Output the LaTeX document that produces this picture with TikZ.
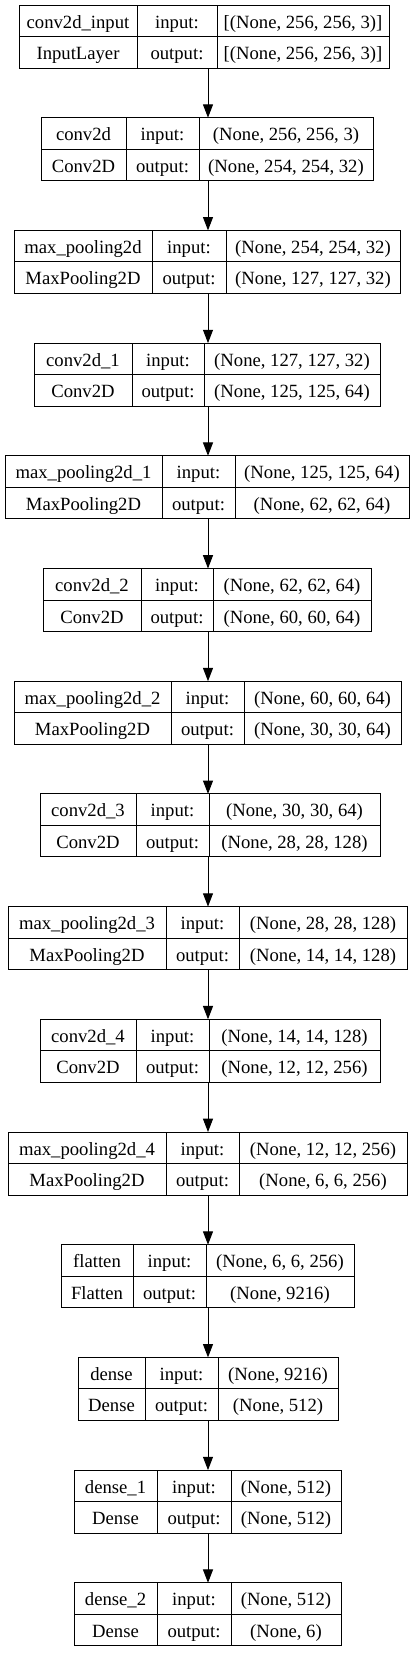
\documentclass[tikz,border=0pt]{standalone}
\usepackage{fontspec}
\setmainfont{Liberation Serif}
\usetikzlibrary{arrows.meta}
\tikzset{
  laybox/.style={draw, rectangle, inner sep=0pt, outer sep=0pt, line width=0.75pt},
  cell/.style={inner sep=0pt, anchor=base, font=\fontsize{14pt}{16pt}\selectfont},
  divider/.style={line width=0.75pt},
  flow/.style={line width=0.75pt, -{Triangle[length=10pt,width=7.5pt]}}
}
\begin{document}
\begin{tikzpicture}[x=0.75pt,y=-0.75pt]
\useasboundingbox (0,0) rectangle (416,1653);
\fill[white] (0,0) rectangle (416,1653);
\coordinate (ax) at (208,0);
\foreach \i/\l/\a/\b/\r/\nm/\cl/\vin/\vout in {
 0/19/137/217/389/conv2d\_input/InputLayer/{[(None, 256, 256, 3)]}/{[(None, 256, 256, 3)]},
 1/41/126/199/373/conv2d/Conv2D/{(None, 256, 256, 3)}/{(None, 254, 254, 32)},
 2/14/152/226/400/max\_pooling2d/MaxPooling2D/{(None, 254, 254, 32)}/{(None, 127, 127, 32)},
 3/34/132/204/380/conv2d\_1/Conv2D/{(None, 127, 127, 32)}/{(None, 125, 125, 64)},
 4/5/162/235/409/max\_pooling2d\_1/MaxPooling2D/{(None, 125, 125, 64)}/{(None, 62, 62, 64)},
 5/43/141/213/371/conv2d\_2/Conv2D/{(None, 62, 62, 64)}/{(None, 60, 60, 64)},
 6/14/171/244/401/max\_pooling2d\_2/MaxPooling2D/{(None, 60, 60, 64)}/{(None, 30, 30, 64)},
 7/40/136/209/380/conv2d\_3/Conv2D/{(None, 30, 30, 64)}/{(None, 28, 28, 128)},
 8/8/166/239/407/max\_pooling2d\_3/MaxPooling2D/{(None, 28, 28, 128)}/{(None, 14, 14, 128)},
 9/40/136/209/380/conv2d\_4/Conv2D/{(None, 14, 14, 128)}/{(None, 12, 12, 256)},
 10/8/166/239/407/max\_pooling2d\_4/MaxPooling2D/{(None, 12, 12, 256)}/{(None, 6, 6, 256)},
 11/61/133/206/354/flatten/Flatten/{(None, 6, 6, 256)}/{(None, 9216)},
 12/78/145/218/338/dense/Dense/{(None, 9216)}/{(None, 512)},
 13/74/157/231/341/dense\_1/Dense/{(None, 512)}/{(None, 512)},
 14/74/157/231/341/dense\_2/Dense/{(None, 512)}/{(None, 6)}%
}{
  \pgfmathsetmacro\t{5+112.7*\i}
  \node[laybox, minimum width={(\r-\l)*0.75pt}, minimum height={63*0.75pt}] (b\i) at ({(\l+\r)/2},{\t+31.5}) {};
  \draw[divider] (\l,{\t+31.5}) -- (\r,{\t+31.5});
  \draw[divider] (\a,\t) -- (\a,{\t+63});
  \draw[divider] (\b,\t) -- (\b,{\t+63});
  \node[cell] (b\i-n) at ({(\l+\a)/2},{\t+23}) {\nm};
  \node[cell] (b\i-c) at ({(\l+\a)/2},{\t+54.5}) {\cl};
  \node[cell] (b\i-i) at ({(\a+\b)/2},{\t+23}) {input:};
  \node[cell] (b\i-o) at ({(\a+\b)/2},{\t+54.5}) {output:};
  \node[cell] (b\i-vi) at ({(\b+\r)/2},{\t+23}) {\vin};
  \node[cell] (b\i-vo) at ({(\b+\r)/2},{\t+54.5}) {\vout};
}
\foreach \i [count=\j from 1] in {0,...,13}{
  \draw[flow] (b\i.south -| ax) -- (b\j.north -| ax);
}
\end{tikzpicture}
\end{document}
